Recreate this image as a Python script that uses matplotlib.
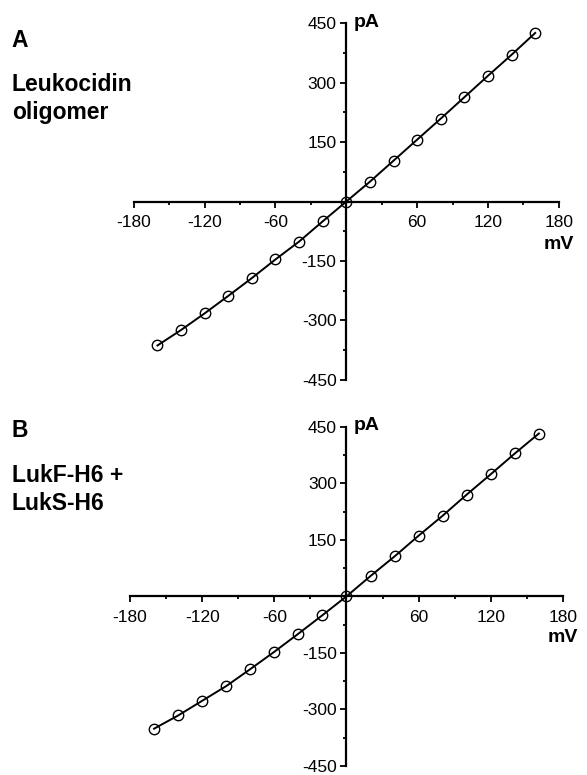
import matplotlib
matplotlib.use("Agg")
import matplotlib.pyplot as plt
from matplotlib import font_manager
from matplotlib.ticker import MultipleLocator, FixedLocator

plt.rcParams['font.family'] = ['Liberation Sans', 'DejaVu Sans']
plt.rcParams['axes.unicode_minus'] = False

# voltage steps (mV) and measured currents (pA)
voltage = [-160, -140, -120, -100, -80, -60, -40, -20, 0,
           20, 40, 60, 80, 100, 120, 140, 160]
current_a = [-363, -324, -282, -238, -193, -146, -101, -50, 0,
             50, 103, 156, 209, 263, 317, 370, 425]
current_b = [-351, -316, -277, -238, -193, -147, -99, -50, 0,
             54, 106, 161, 214, 270, 324, 379, 432]

panel_letters = ['A', 'B']
panel_names = ['Leukocidin\noligomer', 'LukF-H6 +\nLukS-H6']
x_ticks = [-180, -120, -60, 60, 120, 180]
y_ticks = [-450, -300, -150, 150, 300, 450]

# matplotlib sometimes picks the Narrow cut for bold, so point at the file
bold_file = None
for f in font_manager.findSystemFonts():
    if f.endswith('LiberationSans-Bold.ttf'):
        bold_file = f
        break


def bold(size):
    if bold_file:
        return font_manager.FontProperties(fname=bold_file, size=size)
    return font_manager.FontProperties(family='DejaVu Sans', weight='bold',
                                       size=size)


def style_axes(ax):
    ax.set_xlim(-180, 180)
    ax.set_ylim(-450, 450)
    for side in ['top', 'right']:
        ax.spines[side].set_visible(False)
    ax.spines['left'].set_position(('data', 0))
    ax.spines['bottom'].set_position(('data', 0))
    for side in ['left', 'bottom']:
        ax.spines[side].set_linewidth(1.6)
    ax.xaxis.set_major_locator(FixedLocator(x_ticks))
    ax.xaxis.set_minor_locator(MultipleLocator(30))
    ax.yaxis.set_major_locator(FixedLocator(y_ticks))
    ax.yaxis.set_minor_locator(MultipleLocator(75))
    ax.tick_params(which='major', direction='out', length=4, width=1.3,
                   labelsize=12.5)
    ax.tick_params(axis='x', which='major', pad=6)
    ax.tick_params(axis='y', which='major', pad=3)
    ax.tick_params(which='minor', direction='out', length=2.5, width=1.3)
    ax.set_facecolor('none')


fig = plt.figure(figsize=(5.87, 7.75), dpi=100)
ax_a = fig.add_axes([0.228, 0.5097, 0.724, 0.4606])
ax_b = fig.add_axes([0.2215, 0.0116, 0.7375, 0.4378])

for ax, cur in [(ax_a, current_a), (ax_b, current_b)]:
    style_axes(ax)
    ax.plot(voltage, cur, color='black', lw=1.4, marker='o', ms=7.5,
            mfc='none', mec='black', mew=1.0, clip_on=False, zorder=3)
    ax.text(6, 452, 'pA', fontproperties=bold(14), ha='left', va='center')
    ax.text(180, -108, 'mV', fontproperties=bold(14), ha='center',
            va='center')

# panel labels
fig.text(0.02, 0.948, panel_letters[0], fontproperties=bold(16.5),
         va='center')
fig.text(0.02, 0.873, panel_names[0], fontproperties=bold(16.5),
         va='center', linespacing=1.28)
fig.text(0.02, 0.445, panel_letters[1], fontproperties=bold(16.5),
         va='center')
fig.text(0.02, 0.369, panel_names[1], fontproperties=bold(16.5),
         va='center', linespacing=1.28)

fig.savefig('out.png', dpi=100, facecolor='white')
